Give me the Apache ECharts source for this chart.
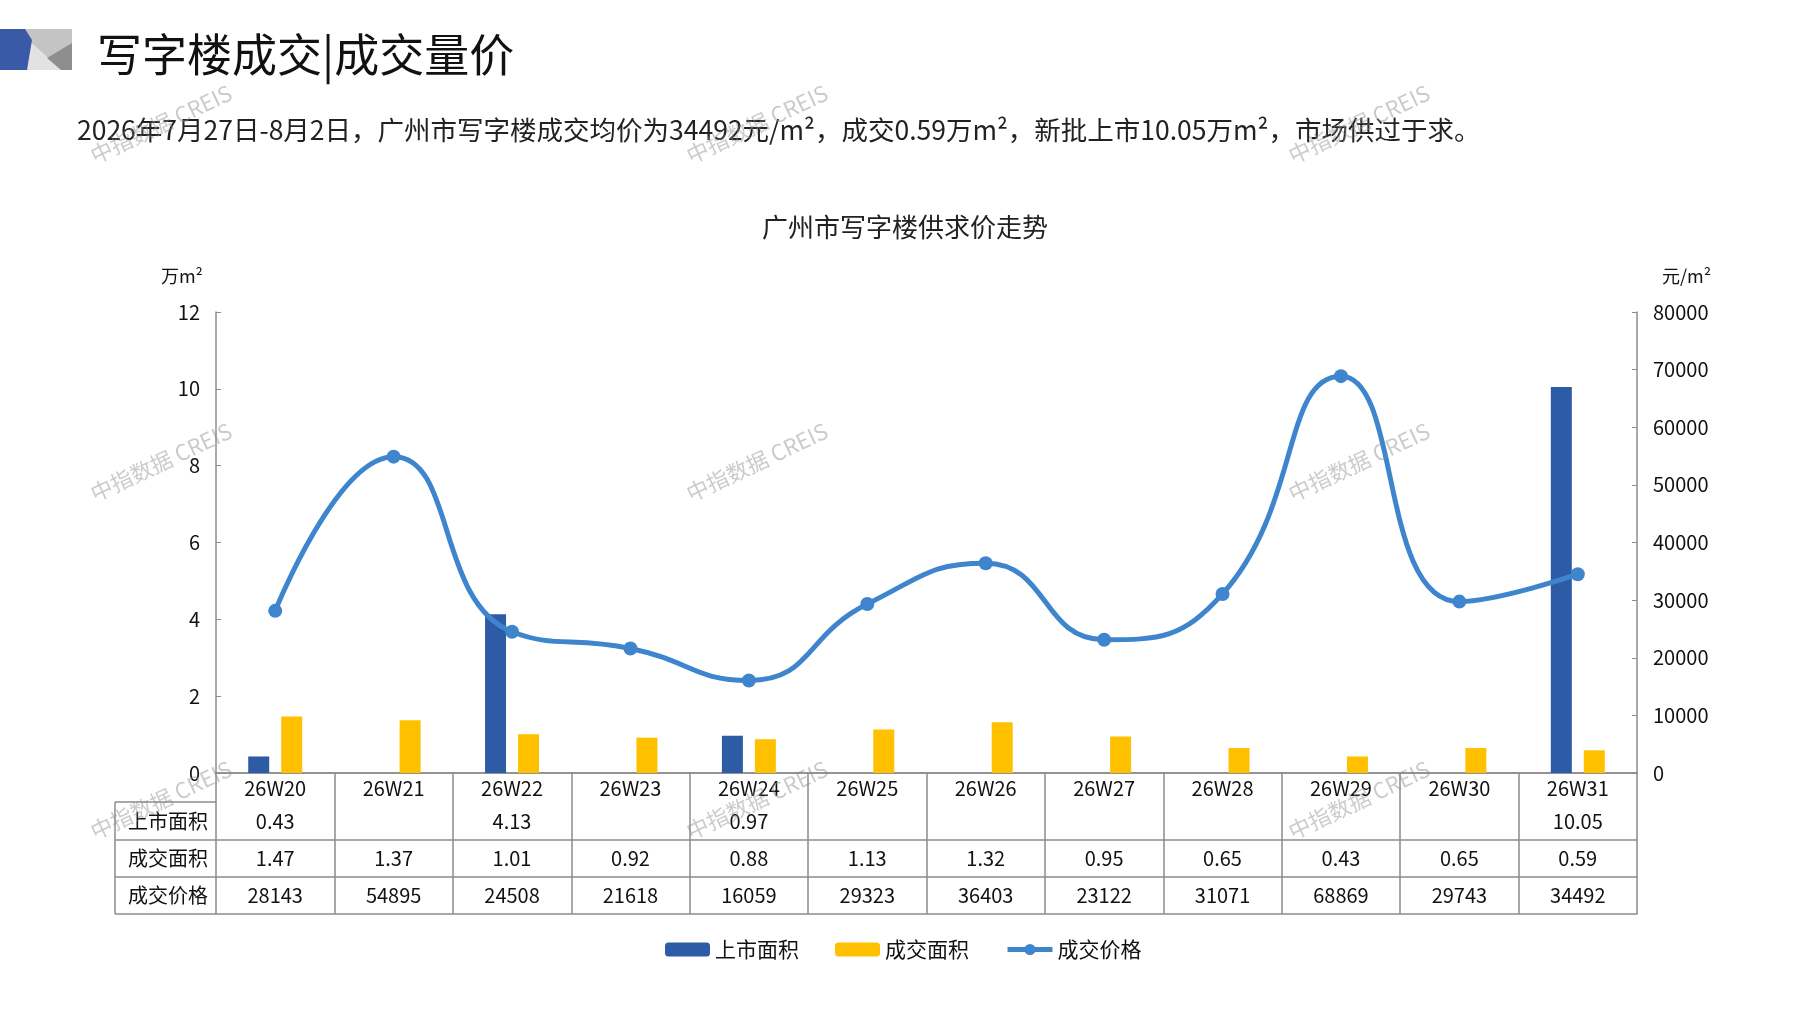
<!DOCTYPE html>
<html>
<head>
<meta charset="utf-8">
<title>广州市写字楼供求价走势</title>
<script src="https://cdn.jsdelivr.net/npm/echarts@6/dist/echarts.min.js"></script>
<style>
  html, body { margin: 0; padding: 0; background: #fff; }
  #chart { width: 1797px; height: 1010px; }
</style>
</head>
<body>
<div id="chart"></div>
<script>
// 数据
const weeks = ['26W20', '26W21', '26W22', '26W23', '26W24', '26W25', '26W26', '26W27', '26W28', '26W29', '26W30', '26W31'];
const supplyArea = [0.43, null, 4.13, null, 0.97, null, null, null, null, null, null, 10.05]; // 上市面积 万m²
const dealArea = [1.47, 1.37, 1.01, 0.92, 0.88, 1.13, 1.32, 0.95, 0.65, 0.43, 0.65, 0.59];   // 成交面积 万m²
const dealPrice = [28143, 54895, 24508, 21618, 16059, 29323, 36403, 23122, 31071, 68869, 29743, 34492]; // 成交价格 元/m²
const rowNames = ['上市面积', '成交面积', '成交价格'];

// 版面
const W = 1797, H = 1010;
const gridLeft = 216, gridRight = 1637, gridTop = 312, gridBottom = 773;
const tableLeft = 115;
const rowLines = [29, 67, 104, 141]; // 表格横线距 x 轴的偏移
const lineColor = '#8c8c8c';
const font = '"Noto Sans CJK SC", "Noto Sans", sans-serif';

const chart = echarts.init(document.getElementById('chart'));

function cellText(arr, digits) {
    return function (v, i) {
        const x = arr[i];
        return x == null ? '' : (digits != null ? x.toFixed(digits) : String(x));
    };
}

// 表格的一条横线: 行名和数值都写在线的上方(该行的底线)
function rowAxis(offset, name, formatter, rowHeight) {
    return {
        type: 'category',
        data: weeks,
        gridIndex: 0,
        position: 'bottom',
        offset: offset,
        axisLine: { show: true, lineStyle: { color: lineColor, width: 1.5 } },
        axisTick: { show: false },
        axisLabel: {
            show: !!formatter,
            inside: true,
            margin: 9,
            interval: 0,
            color: '#111',
            fontSize: 20,
            fontFamily: font,
            formatter: formatter || ''
        },
        name: name || '',
        nameLocation: 'start',
        nameGap: 8,
        nameMoveOverlap: false,
        nameTextStyle: {
            color: '#111',
            fontSize: 20,
            fontFamily: font,
            verticalAlign: 'bottom',
            lineHeight: rowHeight || 20
        }
    };
}

// 水印
const marks = [];
[161, 757, 1359].forEach(function (x) {
    [124, 462, 800].forEach(function (y) {
        marks.push({
            type: 'text',
            x: x, y: y,
            rotation: 0.44,
            silent: true,
            z: 100,
            style: {
                text: '中指数据 CREIS',
                fill: 'rgba(140,140,140,0.45)',
                font: '22px ' + font,
                align: 'center',
                verticalAlign: 'middle'
            }
        });
    });
});

// 表格左列框线
const frame = rowLines.map(function (o) {
    return {
        type: 'line',
        shape: { x1: tableLeft, y1: gridBottom + o, x2: gridLeft, y2: gridBottom + o },
        style: { stroke: lineColor, lineWidth: 1.5 }
    };
});
frame.push({
    type: 'line',
    shape: { x1: tableLeft, y1: gridBottom + rowLines[0], x2: tableLeft, y2: gridBottom + rowLines[3] },
    style: { stroke: lineColor, lineWidth: 1.5 }
});

// 标题图标
const icon = [
    { type: 'rect', shape: { x: 24, y: 29, width: 48, height: 41 }, style: { fill: '#c4c4c4' } },
    { type: 'polygon', shape: { points: [[26, 38], [62, 70], [26, 70]] }, style: { fill: '#e2e2e2' } },
    { type: 'polygon', shape: { points: [[72, 43], [47, 58], [61, 70], [72, 70]] }, style: { fill: '#8e8e8e' } },
    { type: 'polygon', shape: { points: [[0, 29], [25, 29], [32, 40], [27, 70], [0, 70]] }, style: { fill: '#3a5aa8' } }
];

let option = {
    backgroundColor: '#fff',
    textStyle: { fontFamily: font },
    title: [
        {
            text: '写字楼成交|成交量价',
            left: 92, top: 27,
            textStyle: { fontSize: 45, fontWeight: 'normal', color: '#111', fontFamily: font }
        },
        {
            text: '2026年7月27日-8月2日，广州市写字楼成交均价为34492元/m²，成交0.59万m²，新批上市10.05万m²，市场供过于求。',
            left: 72, top: 112,
            textStyle: { fontSize: 26.5, fontWeight: 'normal', color: '#222', fontFamily: font }
        },
        {
            text: '广州市写字楼供求价走势',
            left: 900, top: 209, textAlign: 'center',
            textStyle: { fontSize: 26, fontWeight: 'normal', color: '#222', fontFamily: font }
        }
    ],
    legend: {
        left: 660, top: 934,
        itemWidth: 45, itemHeight: 14, itemGap: 36,
        textStyle: { fontSize: 21, color: '#111', fontFamily: font },
        lineStyle: { width: 5 },
        data: ['上市面积', '成交面积', '成交价格']
    },
    grid: {
        left: gridLeft, right: W - gridRight, top: gridTop, bottom: H - gridBottom,
        containLabel: false
    },
    xAxis: [
        {
            type: 'category',
            data: weeks,
            position: 'bottom',
            axisLine: { show: true, lineStyle: { color: lineColor, width: 1.5 } },
            axisTick: { show: true, interval: 0, length: rowLines[3], lineStyle: { color: lineColor, width: 1.5 } },
            axisLabel: { interval: 0, margin: 5, color: '#111', fontSize: 20, fontFamily: font }
        },
        rowAxis(rowLines[0]),
        rowAxis(rowLines[1], rowNames[0], cellText(supplyArea, 2), rowLines[1] - rowLines[0]),
        rowAxis(rowLines[2], rowNames[1], cellText(dealArea, 2), rowLines[2] - rowLines[1]),
        rowAxis(rowLines[3], rowNames[2], cellText(dealPrice), rowLines[3] - rowLines[2])
    ],
    yAxis: [
        {
            type: 'value',
            min: 0, max: 12, interval: 2,
            name: '万m²',
            nameLocation: 'end',
            nameGap: 27,
            nameTextStyle: { color: '#111', fontSize: 18, fontFamily: font, align: 'right', padding: [0, 13, 0, 0] },
            axisLine: { show: true, lineStyle: { color: lineColor, width: 1.5 } },
            axisTick: { show: true, inside: true, length: 5, lineStyle: { color: lineColor } },
            axisLabel: { margin: 16, color: '#111', fontSize: 20 },
            splitLine: { show: false }
        },
        {
            type: 'value',
            min: 0, max: 80000, interval: 10000,
            name: '元/m²',
            nameLocation: 'end',
            nameGap: 27,
            nameTextStyle: { color: '#111', fontSize: 18, fontFamily: font, align: 'left', padding: [0, 0, 0, 25] },
            axisLine: { show: true, lineStyle: { color: lineColor, width: 1.5 } },
            axisTick: { show: true, inside: true, length: 5, lineStyle: { color: lineColor } },
            axisLabel: { margin: 16, color: '#111', fontSize: 20, formatter: function (v) { return String(v); } },
            splitLine: { show: false }
        }
    ],
    series: [
        {
            name: '上市面积',
            type: 'bar',
            data: supplyArea,
            barWidth: 21,
            barGap: '57%',
            itemStyle: { color: '#2e5ba6' }
        },
        {
            name: '成交面积',
            type: 'bar',
            data: dealArea,
            barWidth: 21,
            itemStyle: { color: '#ffc000' }
        },
        {
            name: '成交价格',
            type: 'line',
            yAxisIndex: 1,
            data: dealPrice,
            smooth: 0.5,
            symbol: 'circle',
            symbolSize: 14,
            lineStyle: { width: 5, color: '#3e85cd' },
            itemStyle: { color: '#3e85cd' }
        }
    ],
    graphic: icon.concat(frame, marks)
};

chart.setOption(option);
</script>
</body>
</html>
